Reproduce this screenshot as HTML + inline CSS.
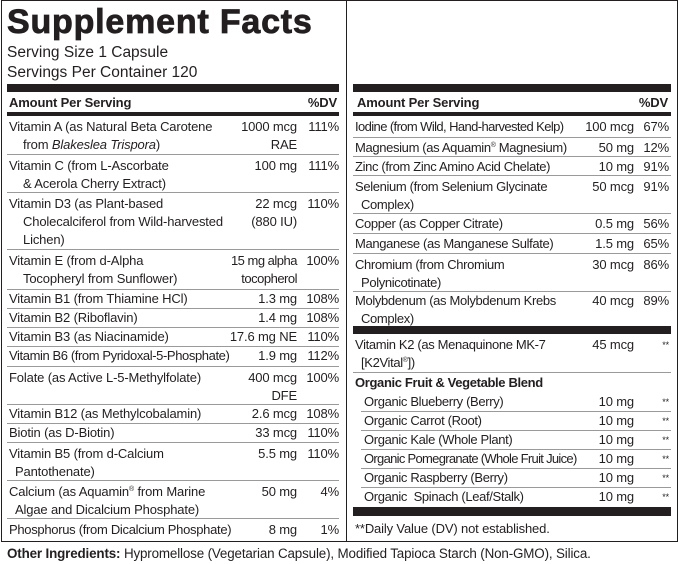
<!DOCTYPE html>
<html><head><meta charset="utf-8"><style>
*{margin:0;padding:0;box-sizing:border-box}
body{width:679px;height:564px;background:#fff;position:relative;overflow:hidden;font-family:"Liberation Sans",Arial,sans-serif;color:#231f20;font-size:13px;letter-spacing:-0.15px}
.a{position:absolute}
.box{left:1px;top:0;width:677px;height:542px;border:1px solid #231f20}
.vl{left:346px;top:0;width:1px;height:541px;background:#231f20}
.bar{background:#231f20}
.r{position:absolute;border-bottom:1px solid #9a9a9a;line-height:18px}
.n{position:absolute;top:2px;left:2px;white-space:nowrap}
.am{position:absolute;top:2px;text-align:right;white-space:nowrap}
.dv{position:absolute;top:2px;text-align:right}
.L .am{right:42px}.L .dv{right:0}
.R .am{right:37px}.R .dv{right:2px}
.L{left:7px;width:332px}
.R{left:353px;width:318px}
.R .n{letter-spacing:-0.35px}
.ind{padding-left:14px}
.ast{font-size:9px}
sup{font-size:7px;line-height:0;vertical-align:0;position:relative;top:-5px}
</style></head><body>
<div class="a box"></div>
<div class="a vl"></div>
<div class="a" style="left:7px;top:1px;font-size:34px;font-weight:bold;letter-spacing:0.8px;line-height:42px;-webkit-text-stroke:0.8px #231f20">Supplement Facts</div>
<div class="a" style="left:7px;top:43px;font-size:15.5px;line-height:19.5px;letter-spacing:0">Serving Size 1 Capsule<br>Servings Per Container 120</div>

<div class="a bar" style="left:7px;top:84px;width:332px;height:8px"></div>
<div class="a" style="left:9px;top:95px;font-weight:bold;font-size:13px">Amount Per Serving</div>
<div class="a" style="left:300px;top:95px;width:37px;text-align:right;font-weight:bold;font-size:13px">%DV</div>
<div class="a bar" style="left:7px;top:112px;width:332px;height:4px"></div>

<div class="r L" style="top:116px;height:39px"><div class="n">Vitamin A (as Natural Beta Carotene<br><span class="ind">from <i>Blakeslea Trispora</i>)</span></div><div class="am">1000 mcg<br>RAE</div><div class="dv">111%</div></div>
<div class="r L" style="top:155px;height:38px"><div class="n">Vitamin C (from L-Ascorbate<br><span class="ind">&amp; Acerola Cherry Extract)</span></div><div class="am">100 mg</div><div class="dv">111%</div></div>
<div class="r L" style="top:193px;height:57px"><div class="n">Vitamin D3 (as Plant-based<br><span class="ind">Cholecalciferol from Wild-harvested</span><br><span class="ind">Lichen)</span></div><div class="am">22 mcg<br>(880 IU)</div><div class="dv">110%</div></div>
<div class="r L" style="top:250px;height:40px"><div class="n">Vitamin E (from d-Alpha<br><span class="ind">Tocopheryl from Sunflower)</span></div><div class="am" style="letter-spacing:-0.5px">15 mg alpha<br>tocopherol</div><div class="dv">100%</div></div>
<div class="r L" style="top:290px;height:19px"><div class="n" style="top:0">Vitamin B1 (from Thiamine HCl)</div><div class="am" style="top:0">1.3 mg</div><div class="dv" style="top:0">108%</div></div>
<div class="r L" style="top:309px;height:19px"><div class="n" style="top:0">Vitamin B2 (Riboflavin)</div><div class="am" style="top:0">1.4 mg</div><div class="dv" style="top:0">108%</div></div>
<div class="r L" style="top:328px;height:19px"><div class="n" style="top:0">Vitamin B3 (as Niacinamide)</div><div class="am" style="top:0">17.6 mg NE</div><div class="dv" style="top:0">110%</div></div>
<div class="r L" style="top:347px;height:20px"><div class="n" style="top:0;letter-spacing:-0.4px">Vitamin B6 (from Pyridoxal-5-Phosphate)</div><div class="am" style="top:0">1.9 mg</div><div class="dv" style="top:0">112%</div></div>
<div class="r L" style="top:367px;height:38px"><div class="n">Folate (as Active L-5-Methylfolate)</div><div class="am">400 mcg<br>DFE</div><div class="dv">100%</div></div>
<div class="r L" style="top:405px;height:19px"><div class="n" style="top:0">Vitamin B12 (as Methylcobalamin)</div><div class="am" style="top:0">2.6 mcg</div><div class="dv" style="top:0">108%</div></div>
<div class="r L" style="top:424px;height:19px"><div class="n" style="top:0">Biotin (as D-Biotin)</div><div class="am" style="top:0">33 mcg</div><div class="dv" style="top:0">110%</div></div>
<div class="r L" style="top:443px;height:38px"><div class="n">Vitamin B5 (from d-Calcium<br><span class="ind" style="padding-left:6px">Pantothenate)</span></div><div class="am">5.5 mg</div><div class="dv">110%</div></div>
<div class="r L" style="top:481px;height:38px"><div class="n">Calcium (as Aquamin<sup>®</sup> from Marine<br><span class="ind" style="padding-left:6px">Algae and Dicalcium Phosphate)</span></div><div class="am">50 mg</div><div class="dv">4%</div></div>
<div class="r L" style="top:519px;height:21px;border:none"><div class="n" style="letter-spacing:-0.3px">Phosphorus (from Dicalcium Phosphate)</div><div class="am">8 mg</div><div class="dv">1%</div></div>

<div class="a bar" style="left:353px;top:84px;width:318px;height:8px"></div>
<div class="a" style="left:357px;top:95px;font-weight:bold;font-size:13px">Amount Per Serving</div>
<div class="a" style="left:620px;top:95px;width:48px;text-align:right;font-weight:bold;font-size:13px">%DV</div>
<div class="a bar" style="left:353px;top:112px;width:318px;height:4px"></div>

<div class="r R" style="top:116px;height:22px"><div class="n" style="letter-spacing:-0.6px">Iodine (from Wild, Hand-harvested Kelp)</div><div class="am">100 mcg</div><div class="dv">67%</div></div>
<div class="r R" style="top:138px;height:19px"><div class="n" style="top:1px">Magnesium (as Aquamin<sup>®</sup> Magnesium)</div><div class="am" style="top:1px">50 mg</div><div class="dv" style="top:1px">12%</div></div>
<div class="r R" style="top:157px;height:19px"><div class="n" style="top:1px">Zinc (from Zinc Amino Acid Chelate)</div><div class="am" style="top:1px">10 mg</div><div class="dv" style="top:1px">91%</div></div>
<div class="r R" style="top:176px;height:38px"><div class="n">Selenium (from Selenium Glycinate<br><span class="ind" style="padding-left:6px">Complex)</span></div><div class="am">50 mcg</div><div class="dv">91%</div></div>
<div class="r R" style="top:214px;height:20px"><div class="n" style="top:1px">Copper (as Copper Citrate)</div><div class="am" style="top:1px">0.5 mg</div><div class="dv" style="top:1px">56%</div></div>
<div class="r R" style="top:234px;height:20px"><div class="n" style="top:1px">Manganese (as Manganese Sulfate)</div><div class="am" style="top:1px">1.5 mg</div><div class="dv" style="top:1px">65%</div></div>
<div class="r R" style="top:254px;height:38px"><div class="n">Chromium (from Chromium<br><span class="ind" style="padding-left:6px">Polynicotinate)</span></div><div class="am">30 mcg</div><div class="dv">86%</div></div>
<div class="r R" style="top:292px;height:34px;border:none"><div class="n" style="top:0">Molybdenum (as Molybdenum Krebs<br><span class="ind" style="padding-left:6px">Complex)</span></div><div class="am" style="top:0">40 mcg</div><div class="dv" style="top:0">89%</div></div>
<div class="a bar" style="left:353px;top:326px;width:318px;height:8px"></div>
<div class="r R" style="top:334px;height:39px"><div class="n">Vitamin K2 (as Menaquinone MK-7<br><span class="ind" style="padding-left:6px">[K2Vital<sup>®</sup>])</span></div><div class="am">45 mcg</div><div class="dv ast">**</div></div>
<div class="r R" style="top:373px;height:20px;border:none"><div class="n" style="top:1px;font-weight:bold">Organic Fruit &amp; Vegetable Blend</div></div>
<div class="r R" style="top:393px;height:19px;left:361px;width:310px"><div class="n" style="top:0;left:3px">Organic Blueberry (Berry)</div><div class="am" style="top:0">10 mg</div><div class="dv ast" style="top:0">**</div></div>
<div class="r R" style="top:412px;height:19px;left:361px;width:310px"><div class="n" style="top:0;left:3px">Organic Carrot (Root)</div><div class="am" style="top:0">10 mg</div><div class="dv ast" style="top:0">**</div></div>
<div class="r R" style="top:431px;height:19px;left:361px;width:310px"><div class="n" style="top:0;left:3px">Organic Kale (Whole Plant)</div><div class="am" style="top:0">10 mg</div><div class="dv ast" style="top:0">**</div></div>
<div class="r R" style="top:450px;height:19px;left:361px;width:310px"><div class="n" style="top:0;left:3px;letter-spacing:-0.7px">Organic Pomegranate (Whole Fruit Juice)</div><div class="am" style="top:0">10 mg</div><div class="dv ast" style="top:0">**</div></div>
<div class="r R" style="top:469px;height:19px;left:361px;width:310px"><div class="n" style="top:0;left:3px">Organic Raspberry (Berry)</div><div class="am" style="top:0">10 mg</div><div class="dv ast" style="top:0">**</div></div>
<div class="r R" style="top:488px;height:19px;left:361px;width:310px;border:none"><div class="n" style="top:0;left:3px">Organic&nbsp; Spinach (Leaf/Stalk)</div><div class="am" style="top:0">10 mg</div><div class="dv ast" style="top:0">**</div></div>
<div class="a bar" style="left:353px;top:507px;width:318px;height:9px"></div>
<div class="a" style="left:355px;top:519px;line-height:19px">**Daily Value (DV) not established.</div>

<div class="a" style="left:7px;top:544px;line-height:19px;font-size:13.4px"><b>Other Ingredients:</b> Hypromellose (Vegetarian Capsule), Modified Tapioca Starch (Non-GMO), Silica.</div>
</body></html>
